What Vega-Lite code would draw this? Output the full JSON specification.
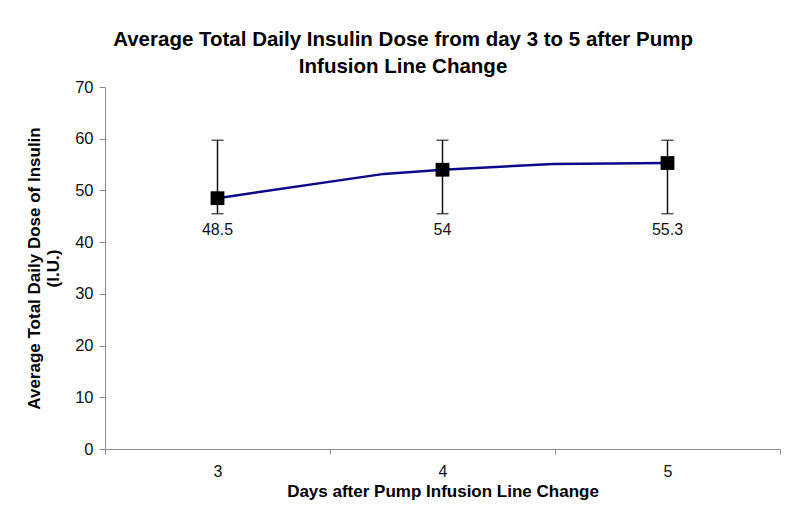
{
  "$schema": "https://vega.github.io/schema/vega-lite/v6.json",
  "width": 675,
  "height": 362,
  "autosize": {"type": "none"},
  "padding": {"left": 105, "top": 87, "right": 20, "bottom": 66},
  "background": "white",
  "config": {
    "font": "Liberation Sans",
    "view": {"stroke": null}
  },
  "title": {
    "text": ["Average Total Daily Insulin Dose from day 3 to 5 after Pump", "Infusion Line Change"],
    "fontSize": 20.5,
    "fontWeight": "bold",
    "color": "#000000",
    "lineHeight": 27,
    "anchor": "middle",
    "frame": "bounds",
    "offset": 2
  },
  "datasets": {
    "pts": [
      {"day": 3, "mean": 48.5, "low": 45.5, "high": 59.7, "label": "48.5"},
      {"day": 4, "mean": 54.0, "low": 45.5, "high": 59.7, "label": "54"},
      {"day": 5, "mean": 55.3, "low": 45.5, "high": 59.7, "label": "55.3"}
    ],
    "line": [
      {"day": 3, "value": 48.5},
      {"day": 3.74, "value": 53.2},
      {"day": 4, "value": 54.0},
      {"day": 4.49, "value": 55.1},
      {"day": 5, "value": 55.3}
    ]
  },
  "encoding": {
    "x": {
      "field": "day",
      "type": "quantitative",
      "scale": {"domain": [2.5, 5.5], "nice": false, "zero": false},
      "axis": {
        "title": "Days after Pump Infusion Line Change",
        "titleFontSize": 17,
        "titleFontWeight": "bold",
        "titleColor": "#000000",
        "titlePadding": 4,
        "values": [2.5, 3, 3.5, 4, 4.5, 5, 5.5],
        "labelExpr": "datum.value % 1 == 0 ? datum.value : ''",
        "labelFontSize": 16,
        "labelColor": "#111111",
        "labelPadding": 9,
        "grid": false,
        "domainColor": "#8c8c8c",
        "tickColor": "#8c8c8c",
        "tickSize": 5,
        "tickOpacity": {"condition": {"test": "datum.value % 1 == 0", "value": 0}, "value": 1}
      }
    }
  },
  "layer": [
    {
      "data": {"name": "line"},
      "mark": {"type": "line", "color": "#0a0a8a", "strokeWidth": 2.5},
      "encoding": {
        "y": {
          "field": "value",
          "type": "quantitative",
          "scale": {"domain": [0, 70], "nice": false},
          "axis": {
            "title": ["Average Total Daily Dose of Insulin", "(I.U.)"],
            "titleFontSize": 17,
            "titleFontWeight": "bold",
            "titleColor": "#000000",
            "titlePadding": 12,
            "values": [0, 10, 20, 30, 40, 50, 60, 70],
            "labelFontSize": 16.5,
            "labelColor": "#111111",
            "labelPadding": 6,
            "grid": false,
            "domainColor": "#8c8c8c",
            "tickColor": "#8c8c8c",
            "tickSize": 6
          }
        }
      }
    },
    {
      "data": {"name": "pts"},
      "mark": {"type": "rule", "color": "#111111", "strokeWidth": 1.5},
      "encoding": {
        "y": {"field": "low", "type": "quantitative"},
        "y2": {"field": "high"}
      }
    },
    {
      "data": {"name": "pts"},
      "mark": {"type": "tick", "orient": "horizontal", "color": "#111111", "size": 12, "thickness": 1.5},
      "encoding": {"y": {"field": "low", "type": "quantitative"}}
    },
    {
      "data": {"name": "pts"},
      "mark": {"type": "tick", "orient": "horizontal", "color": "#111111", "size": 12, "thickness": 1.5},
      "encoding": {"y": {"field": "high", "type": "quantitative"}}
    },
    {
      "data": {"name": "pts"},
      "mark": {"type": "point", "shape": "square", "filled": true, "color": "#000000", "size": 190, "opacity": 1},
      "encoding": {"y": {"field": "mean", "type": "quantitative"}}
    },
    {
      "data": {"name": "pts"},
      "mark": {"type": "text", "fontSize": 16, "color": "#111111", "baseline": "top", "dy": 8},
      "encoding": {
        "y": {"field": "low", "type": "quantitative"},
        "text": {"field": "label"}
      }
    }
  ]
}
